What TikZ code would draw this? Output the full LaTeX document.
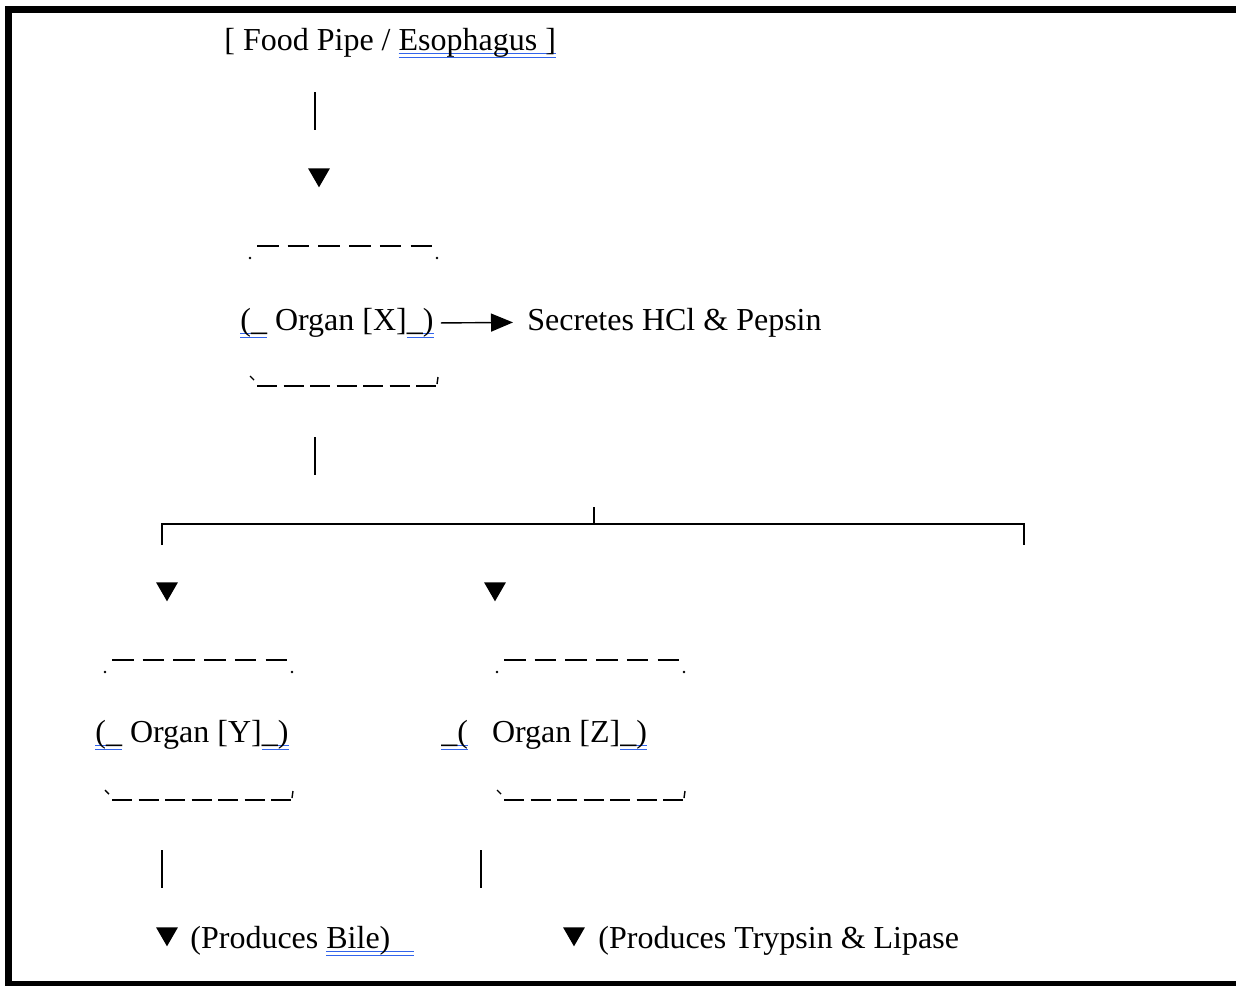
\documentclass[tikz,border=0pt]{standalone}
\usepackage{fontspec}
\setmainfont{Liberation Serif}
\usepackage{xcolor}
\usetikzlibrary{
    arrows.meta,
    shapes.geometric,
    calc
}

\definecolor{markblue}{RGB}{50,100,235}
% blue double underline, as the word processor marks it
\newsavebox\markbox
\newcommand\grammarmark[1]{\sbox\markbox{#1}\rlap{\textcolor{markblue}{\rule[-2.1pt]{\wd\markbox}{0.65pt}}}\rlap{\textcolor{markblue}{\rule[-4.1pt]{\wd\markbox}{0.65pt}}}\usebox\markbox}

\begin{document}
\begin{tikzpicture}[x=0.5pt, y=-0.5pt, text-node/.style={
                anchor=base west, inner sep=0pt, font=\fontsize{16}{19}\selectfont},
                tri-node/.style={regular polygon, regular polygon sides=3, shape border rotate=180,
                fill=black, inner sep=0pt, minimum size=12.6pt, anchor=north},
                stem/.style={line width=1pt},
                top-edge/.style={line width=0.9pt, dash pattern=on 10.75pt off 4.6pt},
                bottom-edge/.style={line width=0.9pt, dash pattern=on 10pt off 3.25pt}]
                \useasboundingbox (0,0) rectangle (1236,986);
                % page frame
                \fill (5,6) rectangle (1236,13);
                \fill (5,6) rectangle (12,986);
                \fill (5,981) rectangle (1236,986);

                \node[text-node] (food) at (224,50) {[ Food Pipe / \grammarmark{Esophagus ]}};
                \node[tri-node] (tri-x) at (319,168) {};
                \node[text-node] (organ-x) at (240,330) {\grammarmark{(\_} Organ [X]\grammarmark{\_)}};
                \node[text-node] (secretes) at (527,330) {Secretes HCl \& Pepsin};
                \node[tri-node] (tri-y) at (167,582) {};
                \node[tri-node] (tri-z) at (495,582) {};
                \node[text-node] (organ-y) at (95,742) {\grammarmark{(\_} Organ [Y]\grammarmark{\_)}};
                \node[text-node] (organ-z) at (441,742) {\grammarmark{\_(}\hspace{12pt}Organ [Z]\grammarmark{\_)}};
                \node[tri-node] (tri-bile) at (167,927) {};
                \node[text-node] (bile) at (190,948) {(Produces \grammarmark{Bile)\hspace{12pt}}};
                \node[tri-node] (tri-panc) at (574,927) {};
                \node[text-node] (trypsin) at (598,948) {(Produces Trypsin \& Lipase};

                % dashed outlines of the organ boxes
                \foreach \bx/\by in {250/246, 105/660, 497/660} {
                    \draw[top-edge] (\bx+7,\by) -- (\bx+182,\by);
                    \fill (\bx,\by+12) circle (0.7pt);
                    \fill (\bx+187,\by+12) circle (0.7pt);
                    \draw[bottom-edge] (\bx+7,\by+140) -- (\bx+186,\by+140);
                    \draw[line width=0.7pt] (\bx,\by+130) -- (\bx+4,\by+134);
                    \draw[line width=0.7pt] (\bx+188,\by+131) -- (\bx+187,\by+138);
                }

                % stems
                \foreach \n/\sx/\sy in {stem-a/315/92, stem-b/315/437, stem-c/162/850, stem-d/481/850} {
                    \coordinate (\n-top) at (\sx,\sy);
                    \coordinate (\n-end) at (\sx,\sy+38);
                    \draw[stem] (\n-top) -- (\n-end);
                }

                % fork to the two lower organs
                \coordinate (fork) at (594,507);
                \coordinate (fork-mid) at (594,524);
                \coordinate (fork-left) at (162,545);
                \coordinate (fork-right) at (1024,545);
                \draw[stem] (fork) -- (fork-mid);
                \draw[stem] (fork-left) |- (fork-mid) -| (fork-right);

                \draw [-{Triangle[length=11pt,width=9pt]}, line width=0.7pt, shorten <=3.5pt, shorten >=7pt] (organ-x.east) -- (secretes.west);
            \end{tikzpicture}
\end{document}
